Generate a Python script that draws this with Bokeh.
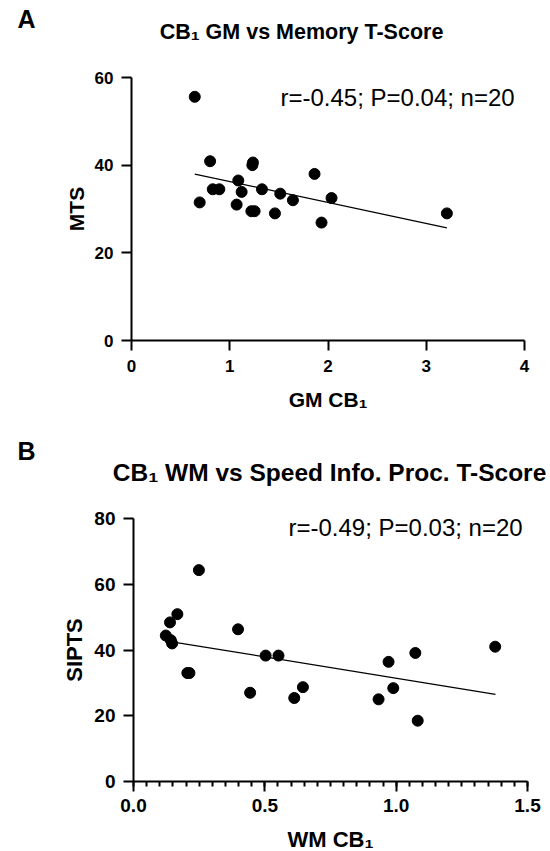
from bokeh.plotting import figure
from bokeh.models import Label, SingleIntervalTicker, NumeralTickFormatter, ColumnDataSource
from bokeh.layouts import column
from bokeh.embed import file_html
from bokeh.resources import INLINE

FONT = "Liberation Sans"

# ---- Panel A data: GM CB1 vs Memory T-Score ----
gm_cb1 = [0.644, 0.694, 0.80, 0.827, 0.894, 1.07, 1.087, 1.121, 1.22, 1.253,
          1.23, 1.236, 1.328, 1.46, 1.514, 1.643, 1.863, 1.934, 2.036, 3.21]
mts = [55.6, 31.5, 40.9, 34.5, 34.5, 31.0, 36.5, 33.9, 29.5, 29.5,
       40.0, 40.6, 34.5, 29.0, 33.5, 32.0, 38.0, 26.9, 32.5, 29.0]
fit_a_x = [0.644, 3.21]
fit_a_y = [37.97, 25.7]
title_a = "CB\u2081 GM vs Memory T-Score"
xlabel_a = "GM CB\u2081"
ylabel_a = "MTS"
stats_a = "r=-0.45; P=0.04; n=20"

# ---- Panel B data: WM CB1 vs Speed Info. Proc. T-Score ----
wm_cb1 = [0.123, 0.139, 0.142, 0.147, 0.167, 0.205, 0.213, 0.249, 0.398, 0.444,
          0.503, 0.552, 0.612, 0.645, 0.933, 0.971, 0.989, 1.073, 1.082, 1.377]
sipts = [44.4, 48.4, 43.0, 42.0, 50.9, 33.0, 33.0, 64.3, 46.3, 27.0,
         38.3, 38.3, 25.4, 28.7, 25.0, 36.4, 28.4, 39.1, 18.5, 41.0]
fit_b_x = [0.123, 1.378]
fit_b_y = [42.8, 26.5]
title_b = "CB\u2081 WM vs Speed Info. Proc. T-Score"
xlabel_b = "WM CB\u2081"
ylabel_b = "SIPTS"
stats_b = "r=-0.49; P=0.03; n=20"


def header(width, height, letter, letter_xy, title, title_xy, title_px):
    h = figure(frame_width=width, frame_height=height, x_range=(0, width),
               y_range=(0, height), x_axis_type=None, y_axis_type=None,
               min_border=0, output_backend="svg", toolbar_location=None,
               background_fill_color="white", border_fill_color="white",
               frame_align=False)
    h.outline_line_color = None
    h.add_layout(Label(x=letter_xy[0], y=letter_xy[1], x_units="screen", y_units="screen",
                       text=letter, text_font=FONT, text_font_style="bold",
                       text_font_size="25px", text_color="black",
                       text_baseline="alphabetic"))
    h.add_layout(Label(x=title_xy[0], y=title_xy[1], x_units="screen", y_units="screen",
                       text=title, text_font=FONT, text_font_style="bold",
                       text_font_size=f"{title_px}px", text_color="black",
                       text_align="center", text_baseline="alphabetic"))
    return h


def make_panel(x, y, fx, fy, xr, yr, xint, xminor, yint, xl, yl, stats,
               frame_w, frame_h, bl, bt, bb, br, tick_px, label_px, stats_px,
               stats_pos, x_tick_standoff, x_label_standoff, xfmt=None):
    p = figure(frame_width=frame_w, frame_height=frame_h,
               x_range=xr, y_range=yr, output_backend="svg",
               toolbar_location=None, min_border_left=bl, min_border_top=bt,
               min_border_bottom=bb, min_border_right=br,
               background_fill_color="white", border_fill_color="white",
               frame_align=False)
    p.xaxis.ticker = SingleIntervalTicker(interval=xint, num_minor_ticks=xminor)
    p.yaxis.ticker = SingleIntervalTicker(interval=yint, num_minor_ticks=0)
    if xfmt:
        p.xaxis.formatter = NumeralTickFormatter(format=xfmt)
    p.xaxis.axis_label = xl
    p.yaxis.axis_label = yl
    for ax in (p.xaxis[0], p.yaxis[0]):
        ax.axis_line_width = 2
        ax.axis_line_color = "black"
        ax.major_tick_line_width = 2
        ax.major_tick_line_color = "black"
        ax.major_tick_out = 10
        ax.major_tick_in = 0
        ax.minor_tick_line_width = 2
        ax.minor_tick_line_color = "black"
        ax.minor_tick_out = 5
        ax.minor_tick_in = 0
        ax.major_label_text_font = FONT
        ax.major_label_text_font_style = "bold"
        ax.major_label_text_font_size = f"{tick_px}px"
        ax.major_label_text_color = "black"
        ax.axis_label_text_font = FONT
        ax.axis_label_text_font_style = "bold"
        ax.axis_label_text_font_size = f"{label_px}px"
        ax.axis_label_text_color = "black"
    p.xaxis.major_label_standoff = x_tick_standoff
    p.yaxis.major_label_standoff = 8
    p.xaxis.axis_label_standoff = x_label_standoff
    p.yaxis.axis_label_standoff = 4
    p.xgrid.visible = False
    p.ygrid.visible = False
    p.outline_line_color = None

    src = ColumnDataSource(dict(x=x, y=y))
    p.line(fx, fy, line_color="black", line_width=1.2)
    p.scatter("x", "y", source=src, size=11, fill_color="black", line_color="black")

    p.add_layout(Label(x=stats_pos[0], y=stats_pos[1], x_units="screen", y_units="screen",
                       text=stats, text_font=FONT, text_font_size=f"{stats_px}px",
                       text_color="black", text_baseline="alphabetic"))
    return p


ha = header(546, 50, "A", (17, 32), title_a, (301, 18.6), 21.5)
pa = make_panel(gm_cb1, mts, fit_a_x, fit_a_y, (0, 4), (0, 60), 1, 0, 20,
                xlabel_a, ylabel_a, stats_a,
                frame_w=393, frame_h=263, bl=131, bt=27, bb=84, br=18,
                tick_px=17, label_px=21, stats_px=24, stats_pos=(149, 243),
                x_tick_standoff=9, x_label_standoff=13)

hb = header(546, 67, "B", (17, 41), title_b, (329, 19), 24.5)
pb = make_panel(wm_cb1, sipts, fit_b_x, fit_b_y, (0, 1.5), (0, 80), 0.5, 10, 20,
                xlabel_b, ylabel_b, stats_b,
                frame_w=394, frame_h=263, bl=133, bt=27, bb=70, br=15,
                tick_px=19, label_px=22, stats_px=24, stats_pos=(155, 254),
                x_tick_standoff=7, x_label_standoff=12, xfmt="0.0")

layout = column(ha, pa, hb, pb, spacing=0)
open("out.html", "w").write(file_html(layout, INLINE))
